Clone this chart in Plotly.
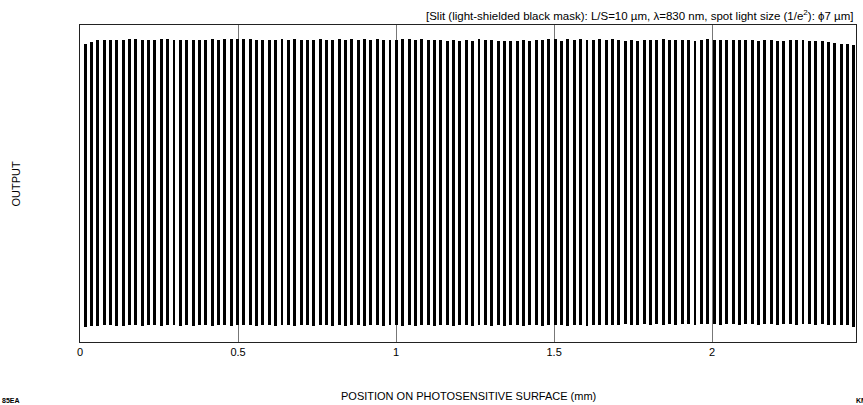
import numpy as np
import plotly.graph_objects as go

# ---- data ----
start_mm = 0.016          # first stripe centre (mm)
pitch_mm = 0.0201         # stripe pitch (mm)  (L/S = 10 um)
x_ticks = [0, 0.5, 1, 1.5, 2]
x_tick_labels = ["0", "0.5", "1", "1.5", "2"]

peak_top = [
    0.940, 0.947, 0.952, 0.953, 0.953, 0.953, 0.952, 0.955, 0.955, 0.953,
    0.953, 0.953, 0.955, 0.955, 0.953, 0.953, 0.953, 0.953, 0.953, 0.952,
    0.955, 0.953, 0.955, 0.955, 0.956, 0.956, 0.955, 0.953, 0.954, 0.952,
    0.953, 0.955, 0.954, 0.956, 0.953, 0.954, 0.953, 0.955, 0.952, 0.954,
    0.955, 0.953, 0.955, 0.954, 0.956, 0.953, 0.955, 0.953, 0.953, 0.954,
    0.955, 0.955, 0.952, 0.955, 0.954, 0.953, 0.953, 0.951, 0.953, 0.950,
    0.953, 0.951, 0.955, 0.953, 0.953, 0.951, 0.950, 0.950, 0.951, 0.952,
    0.950, 0.953, 0.954, 0.955, 0.955, 0.951, 0.955, 0.953, 0.955, 0.953,
    0.952, 0.955, 0.953, 0.955, 0.952, 0.951, 0.953, 0.951, 0.953, 0.952,
    0.954, 0.955, 0.953, 0.954, 0.952, 0.953, 0.951, 0.954, 0.955, 0.953,
    0.953, 0.952, 0.953, 0.954, 0.952, 0.954, 0.951, 0.953, 0.953, 0.951,
    0.950, 0.953, 0.952, 0.953, 0.949, 0.951, 0.948, 0.945, 0.942, 0.941,
    0.939, 0.936,
]
valley_bottom = [
    0.048, 0.050, 0.052, 0.053, 0.055, 0.052, 0.051, 0.053, 0.054, 0.052,
    0.053, 0.055, 0.052, 0.053, 0.054, 0.051, 0.053, 0.052, 0.054, 0.053,
    0.052, 0.054, 0.053, 0.052, 0.053, 0.055, 0.053, 0.052, 0.054, 0.053,
    0.052, 0.053, 0.054, 0.052, 0.053, 0.054, 0.052, 0.053, 0.055, 0.052,
    0.053, 0.052, 0.054, 0.053, 0.052, 0.053, 0.054, 0.052, 0.053, 0.054,
    0.052, 0.053, 0.052, 0.054, 0.053, 0.052, 0.054, 0.053, 0.052, 0.054,
    0.053, 0.052, 0.053, 0.054, 0.052, 0.053, 0.052, 0.054, 0.053, 0.052,
    0.054, 0.053, 0.052, 0.053, 0.055, 0.053, 0.052, 0.054, 0.053, 0.052,
    0.054, 0.053, 0.055, 0.053, 0.054, 0.056, 0.055, 0.054, 0.056, 0.055,
    0.056, 0.055, 0.057, 0.055, 0.056, 0.057, 0.055, 0.056, 0.057, 0.056,
    0.055, 0.057, 0.056, 0.055, 0.057, 0.056, 0.055, 0.057, 0.056, 0.055,
    0.057, 0.056, 0.055, 0.057, 0.056, 0.055, 0.056, 0.055, 0.054, 0.055,
    0.053, 0.046,
]

n = len(peak_top)
positions = start_mm + pitch_mm * np.arange(n)
heights = [t - b for t, b in zip(peak_top, valley_bottom)]

FONT = "Liberation Sans, Arial, Helvetica, sans-serif"

fig = go.Figure()
fig.add_trace(go.Bar(
    x=positions, y=heights, base=valley_bottom,
    width=0.0093, marker=dict(color="black", line=dict(width=0)),
    showlegend=False, hoverinfo="skip",
))

fig.update_layout(
    template="none",
    width=863, height=405,
    margin=dict(l=80, r=7, t=25, b=63, pad=0),
    paper_bgcolor="white", plot_bgcolor="white",
    font=dict(family=FONT, size=11, color="black"),
    bargap=0,
    xaxis=dict(
        range=[0, 2.455], tickvals=x_ticks, ticktext=x_tick_labels,
        showgrid=True, gridcolor="#777", gridwidth=1,
        showline=True, linecolor="#222", linewidth=1, mirror=True,
        ticks="", zeroline=False, tickfont=dict(size=11, color="black"),
    ),
    yaxis=dict(
        range=[0, 1], showticklabels=False, showgrid=False, ticks="",
        showline=True, linecolor="#222", linewidth=1, mirror=True,
        zeroline=False,
    ),
    annotations=[
        dict(text="[Slit (light-shielded black mask): L/S=10 µm, λ=830 nm, spot light size (1/e<sup>2</sup>): ϕ7 µm]",
             xref="paper", yref="paper", x=1.0, y=1.0, xanchor="right", yanchor="bottom",
             yshift=1, showarrow=False, font=dict(size=11.5, color="black")),
        dict(text="POSITION ON PHOTOSENSITIVE SURFACE (mm)",
             xref="paper", yref="paper", x=0.5, y=0, xanchor="center", yanchor="middle",
             yshift=-54, showarrow=False, font=dict(size=11, color="black")),
        dict(text="OUTPUT", xref="paper", yref="paper", x=0, y=0.5,
             xanchor="center", yanchor="middle", xshift=-65, textangle=-90,
             showarrow=False, font=dict(size=11, color="black")),
        dict(text="<b>85EA</b>", xref="paper", yref="paper", x=0, y=0,
             xanchor="left", yanchor="middle", xshift=-80, yshift=-58,
             showarrow=False, font=dict(size=7, color="black")),
        dict(text="<b>KM</b>", xref="paper", yref="paper", x=1, y=0,
             xanchor="left", yanchor="middle", xshift=-2, yshift=-58,
             showarrow=False, font=dict(size=7, color="black")),
    ],
)

fig.write_html("out.html", config={"displayModeBar": False},
               post_script="document.body.style.margin='0';document.body.style.overflow='hidden';")
